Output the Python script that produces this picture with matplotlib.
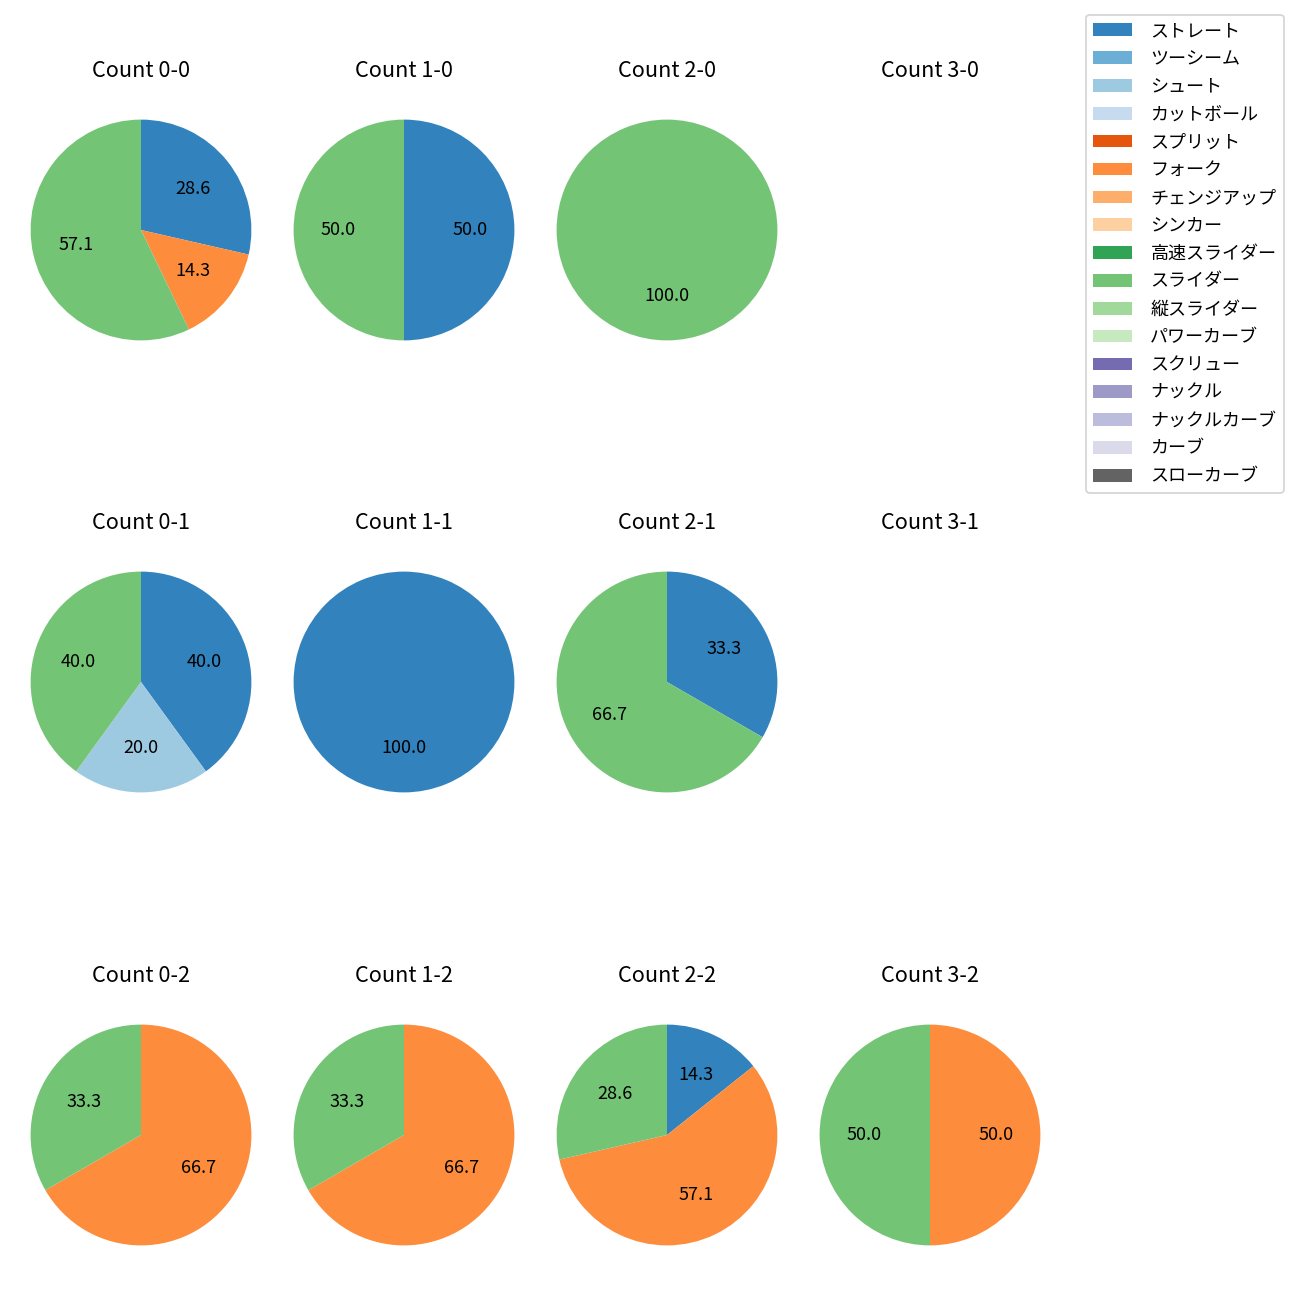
import matplotlib

matplotlib.use("Agg")
import matplotlib.pyplot as plt
from matplotlib.patches import Patch

plt.rcParams["font.family"] = ["Noto Sans CJK JP", "DejaVu Sans"]

# ---------------------------------------------------------------------------
# Data
# ---------------------------------------------------------------------------

pitch_types = [
    "ストレート", "ツーシーム", "シュート", "カットボール", "スプリット",
    "フォーク", "チェンジアップ", "シンカー", "高速スライダー", "スライダー",
    "縦スライダー", "パワーカーブ", "スクリュー", "ナックル", "ナックルカーブ",
    "カーブ", "スローカーブ",
]

count_labels = ["0-0", "1-0", "2-0", "3-0",
                "0-1", "1-1", "2-1", "3-1",
                "0-2", "1-2", "2-2", "3-2"]

# pitches thrown per count (same order as count_labels)
straight = [2, 1, 0, 0, 2, 1, 1, 0, 0, 0, 1, 0]
shoot = [0, 0, 0, 0, 1, 0, 0, 0, 0, 0, 0, 0]
fork = [1, 0, 0, 0, 0, 0, 0, 0, 2, 2, 4, 1]
slider = [4, 1, 1, 0, 2, 0, 2, 0, 1, 1, 2, 1]

series = {"ストレート": straight, "シュート": shoot,
          "フォーク": fork, "スライダー": slider}

cmap = plt.get_cmap("tab20c")
colors = {p: cmap(i) for i, p in enumerate(pitch_types)}

# ---------------------------------------------------------------------------
# Plot
# ---------------------------------------------------------------------------

W, H = 1300, 1300
fig = plt.figure(figsize=(10, 10), dpi=130)

centers_x = [141, 404, 667, 930]
centers_y = [230, 682, 1135]
box = 276

for i, label in enumerate(count_labels):
    r, c = divmod(i, 4)
    cx, cy = centers_x[c], centers_y[r]
    ax = fig.add_axes([(cx - box / 2) / W, 1 - (cy + box / 2) / H, box / W, box / H])
    vals, cols = [], []
    for p in pitch_types:
        if p in series and series[p][i] > 0:
            vals.append(series[p][i])
            cols.append(colors[p])
    if vals:
        ax.pie(vals, colors=cols, startangle=90, counterclock=False,
               autopct="%.1f", textprops={"fontsize": 10})
    else:
        ax.set_xlim(-1.25, 1.25)
        ax.set_ylim(-1.25, 1.25)
        ax.axis("off")
    ax.set_title(f"Count {label}", fontsize=12, pad=8.5)

handles = [Patch(facecolor=colors[p], label=p) for p in pitch_types]
fig.legend(handles=handles, loc="upper right", bbox_to_anchor=(0.9943, 0.9955),
           fontsize=10, labelspacing=0.545, handlelength=2.15, handletextpad=1.0)

fig.savefig("out.png", dpi=130)
